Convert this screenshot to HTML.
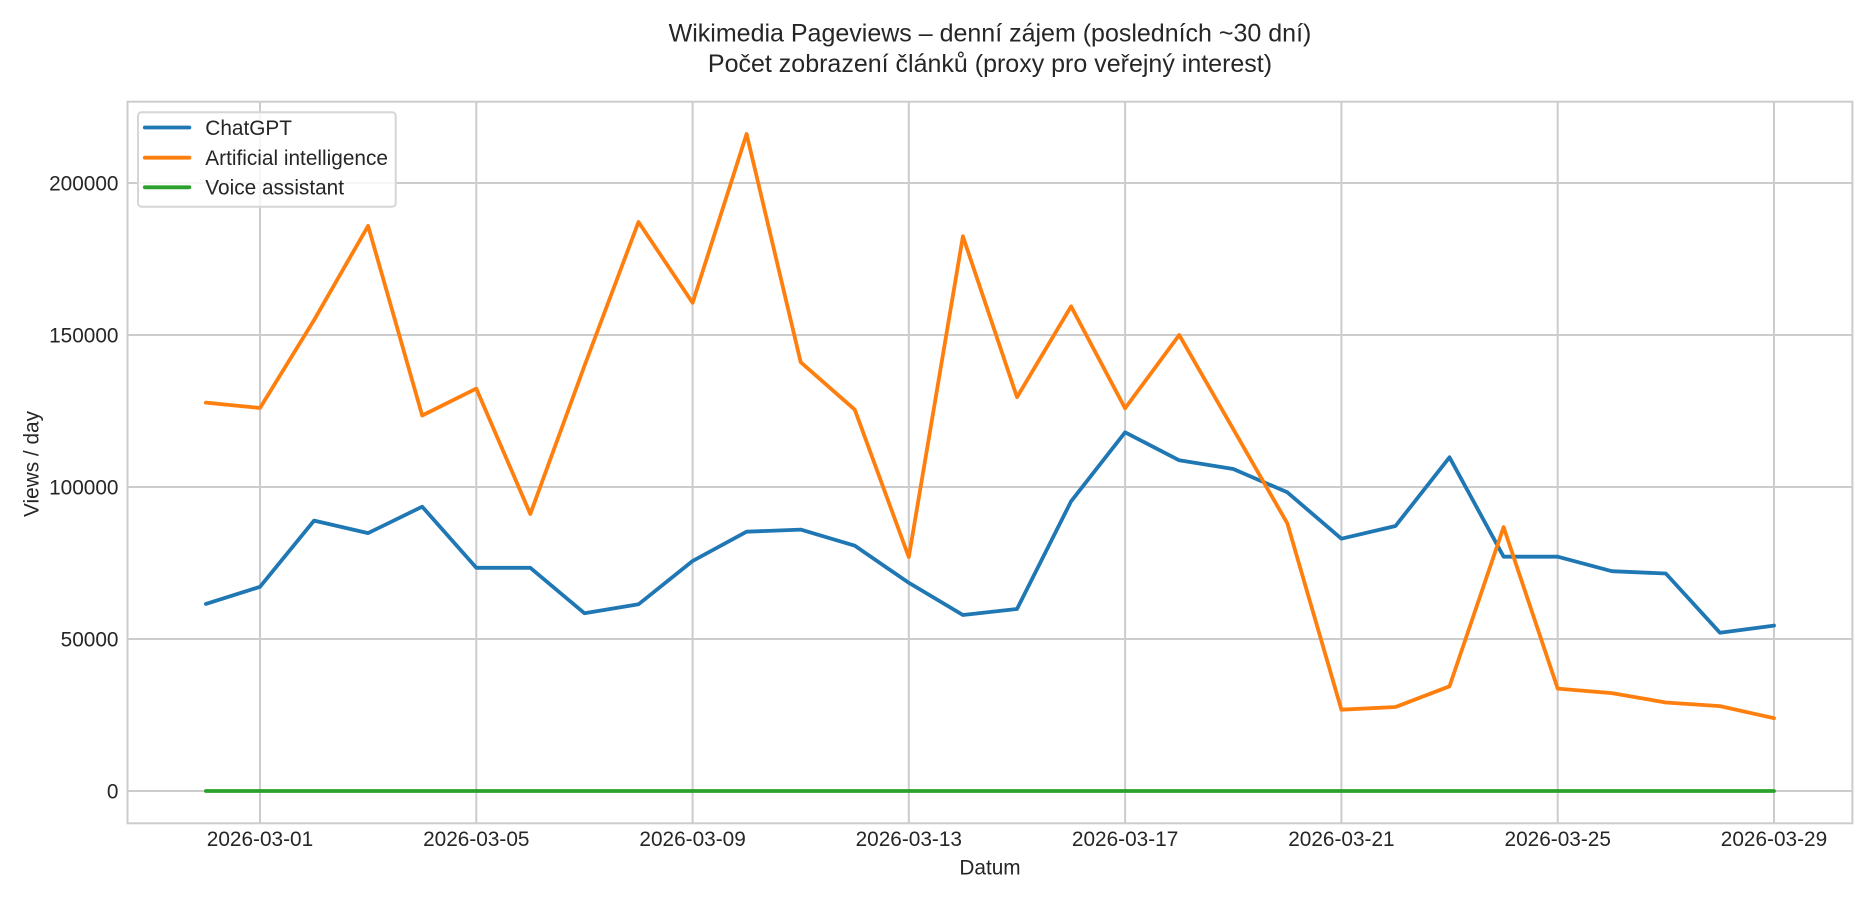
<!DOCTYPE html>
<html>
<head>
<meta charset="utf-8">
<style>
  html, body { margin:0; padding:0; background:#ffffff; }
  svg { display:block; }
  text { font-family: "Liberation Sans", "DejaVu Sans", sans-serif; fill:#262626; }
</style>
</head>
<body>
<svg width="1875" height="900" viewBox="0 0 1875 900" xmlns="http://www.w3.org/2000/svg">
  <rect x="0" y="0" width="1875" height="900" fill="#ffffff"/>

  <!-- Title -->
  <text x="990" y="41.5" font-size="25" text-anchor="middle">Wikimedia Pageviews – denní zájem (posledních ~30 dní)</text>
  <text x="990" y="71.8" font-size="25" text-anchor="middle">Počet zobrazení článků (proxy pro veřejný interest)</text>

  <!-- Grid -->
  <g stroke="#cccccc" stroke-width="2" fill="none">
    <line x1="260.0" y1="101.7" x2="260.0" y2="823.3"/>
    <line x1="476.3" y1="101.7" x2="476.3" y2="823.3"/>
    <line x1="692.6" y1="101.7" x2="692.6" y2="823.3"/>
    <line x1="908.8" y1="101.7" x2="908.8" y2="823.3"/>
    <line x1="1125.1" y1="101.7" x2="1125.1" y2="823.3"/>
    <line x1="1341.4" y1="101.7" x2="1341.4" y2="823.3"/>
    <line x1="1557.7" y1="101.7" x2="1557.7" y2="823.3"/>
    <line x1="1774.0" y1="101.7" x2="1774.0" y2="823.3"/>
    <line x1="127.5" y1="791" x2="1852.4" y2="791"/>
    <line x1="127.5" y1="639" x2="1852.4" y2="639"/>
    <line x1="127.5" y1="487" x2="1852.4" y2="487"/>
    <line x1="127.5" y1="335" x2="1852.4" y2="335"/>
    <line x1="127.5" y1="183" x2="1852.4" y2="183"/>
  </g>

  <!-- Series -->
  <g fill="none" stroke-width="3.8" stroke-linecap="round" stroke-linejoin="round">
    <polyline stroke="#1f77b4" points="205.9,603.9 260.0,586.8 314.1,520.6 368.1,533.1 422.2,506.7 476.3,567.8 530.3,567.8 584.4,613.2 638.5,604.3 692.6,561.0 746.6,531.7 800.7,529.6 854.8,545.7 908.8,582.8 962.9,615.0 1017.0,609.0 1071.1,501.3 1125.1,432.3 1179.2,460.3 1233.3,469.0 1287.3,492.3 1341.4,538.7 1395.5,526.0 1449.5,457.3 1503.6,556.7 1557.7,556.7 1611.8,571.2 1665.8,573.5 1719.9,632.7 1774.0,625.6"/>
    <polyline stroke="#ff7f0e" points="205.9,402.6 260.0,408.0 314.1,320.0 368.1,225.9 422.2,415.5 476.3,388.6 530.3,514.0 584.4,366.0 638.5,222.0 692.6,302.8 746.6,134.0 800.7,362.2 854.8,409.7 908.8,557.1 962.9,236.3 1017.0,397.2 1071.1,306.4 1125.1,408.3 1179.2,335.0 1233.3,429.2 1287.3,523.3 1341.4,709.7 1395.5,707.0 1449.5,686.3 1503.6,527.1 1557.7,688.6 1611.8,693.1 1665.8,702.5 1719.9,706.1 1774.0,718.2"/>
    <polyline stroke="#2ca02c" points="205.9,791 1774.0,791"/>
  </g>

  <!-- Spines -->
  <rect x="127.5" y="101.7" width="1724.9" height="721.6" fill="none" stroke="#cccccc" stroke-width="2"/>

  <!-- Y tick labels -->
  <g font-size="20.8" text-anchor="end">
    <text x="118.5" y="798.4">0</text>
    <text x="118.5" y="646.4">50000</text>
    <text x="118.5" y="494.4">100000</text>
    <text x="118.5" y="342.4">150000</text>
    <text x="118.5" y="190.4">200000</text>
  </g>

  <!-- X tick labels -->
  <g font-size="20.8" text-anchor="middle">
    <text x="260.0" y="846">2026-03-01</text>
    <text x="476.3" y="846">2026-03-05</text>
    <text x="692.6" y="846">2026-03-09</text>
    <text x="908.8" y="846">2026-03-13</text>
    <text x="1125.1" y="846">2026-03-17</text>
    <text x="1341.4" y="846">2026-03-21</text>
    <text x="1557.7" y="846">2026-03-25</text>
    <text x="1774.0" y="846">2026-03-29</text>
  </g>

  <!-- Axis labels -->
  <text x="990" y="874.3" font-size="20.8" text-anchor="middle">Datum</text>
  <text transform="translate(38.5,464) rotate(-90)" x="0" y="0" font-size="20.8" text-anchor="middle">Views / day</text>

  <!-- Legend -->
  <rect x="138" y="112.3" width="257.7" height="94.4" rx="3.5" ry="3.5" fill="#ffffff" fill-opacity="0.8" stroke="#d6d6d6" stroke-width="2"/>
  <g stroke-width="3.8" stroke-linecap="round">
    <line x1="144.8" y1="127.5" x2="189.4" y2="127.5" stroke="#1f77b4"/>
    <line x1="144.8" y1="157.7" x2="189.4" y2="157.7" stroke="#ff7f0e"/>
    <line x1="144.8" y1="187.3" x2="189.4" y2="187.3" stroke="#2ca02c"/>
  </g>
  <g font-size="20.8">
    <text x="205.3" y="134.8">ChatGPT</text>
    <text x="205.3" y="165.1">Artificial intelligence</text>
    <text x="205.3" y="194.7">Voice assistant</text>
  </g>
</svg>
</body>
</html>
